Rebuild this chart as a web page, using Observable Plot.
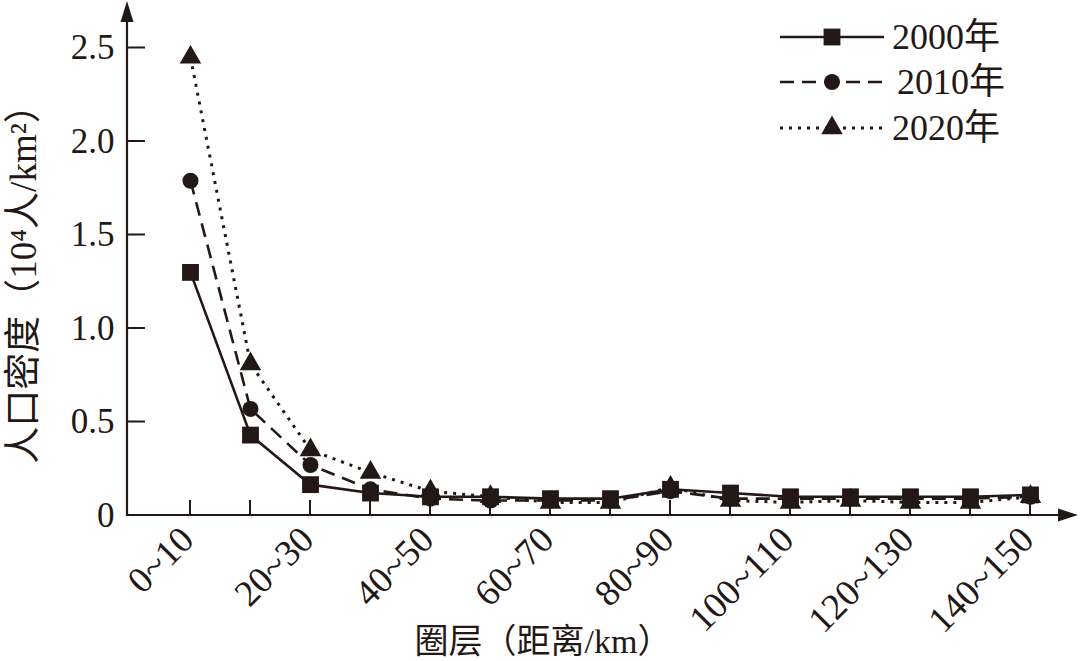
<!DOCTYPE html>
<html><head><meta charset="utf-8">
<script src="https://cdn.jsdelivr.net/npm/d3@7"></script>
<script src="https://cdn.jsdelivr.net/npm/@observablehq/plot@0.6"></script>
<style>
html,body{margin:0;padding:0;background:#fff;}
#chart{position:relative;width:1080px;height:661px;overflow:hidden;}
</style></head><body><div id="chart"></div>
<script>
const categories = ["0~10","10~20","20~30","30~40","40~50","50~60","60~70","70~80","80~90","90~100","100~110","110~120","120~130","130~140","140~150"];
const labeledCategories = categories.filter((d, i) => i % 2 === 0);
const years = ["2000年", "2010年", "2020年"];
const values2000 = [1.30, 0.43, 0.165, 0.12, 0.10, 0.10, 0.09, 0.09, 0.14, 0.12, 0.10, 0.10, 0.10, 0.10, 0.11];
const values2010 = [1.79, 0.57, 0.27, 0.14, 0.09, 0.08, 0.08, 0.08, 0.13, 0.09, 0.09, 0.09, 0.09, 0.09, 0.10];
const values2020 = [2.45, 0.81, 0.35, 0.23, 0.13, 0.10, 0.07, 0.07, 0.15, 0.08, 0.07, 0.08, 0.07, 0.07, 0.10];
const yTicks = [0, 0.5, 1, 1.5, 2, 2.5];
const yTitle = "人口密度（10⁴人/km²）";
const xTitle = "圈层（距离/km）";

const ink = "#231815";
const font = '"Liberation Serif","Times New Roman","Noto Sans CJK SC",serif';
const fs = 34;
const yTickFs = 35;
const xTickFs = 37;

const rows = [];
[values2000, values2010, values2020].forEach((vals, s) =>
  vals.forEach((v, i) => rows.push({year: years[s], cat: categories[i], value: v})));
const series = (y) => rows.filter(d => d.year === y);

const styles = {
  "2000年": {dash: null, width: 2.6, symbol: "square", r: 9.5},
  "2010年": {dash: "14,8", width: 2.6, symbol: "circle", r: 8},
  "2020年": {dash: "3,6", width: 3, symbol: "triangle", r: 8}
};

const chart = Plot.plot({
  width: 1080, height: 661,
  marginLeft: 127, marginRight: 50, marginTop: 47, marginBottom: 146,
  style: {fontFamily: font, fontSize: fs + "px", color: ink, background: "#fff", overflow: "visible"},
  x: {type: "point", domain: categories, range: [189, 1030], padding: 0},
  y: {domain: [0, 2.5], range: [515, 47.5]},
  marks: [
    Plot.axisX({ticks: labeledCategories, tickSize: 0, tickRotate: -45, tickPadding: 18, dx: -3, label: null, fill: ink}),
    Plot.axisY({ticks: yTicks, tickSize: 0, tickPadding: 13, tickFormat: d => d === 0 ? "0" : d.toFixed(1), label: null, fill: ink}),
    ...["2020年", "2010年", "2000年"].flatMap(y => [
      Plot.line(series(y), {x: "cat", y: "value", stroke: ink, strokeWidth: styles[y].width, strokeDasharray: styles[y].dash, curve: "linear", strokeLinecap: "butt"}),
      Plot.dot(series(y), {x: "cat", y: "value", symbol: styles[y].symbol, r: styles[y].r, fill: ink, stroke: "none"})
    ])
  ]
});
document.getElementById("chart").appendChild(chart);

const svg = d3.select(chart);
svg.selectAll('g[aria-label="y-axis tick label"], g[aria-label="y-axis tick label"] text')
  .style("font-size", yTickFs + "px");
svg.selectAll('g[aria-label="x-axis tick label"], g[aria-label="x-axis tick label"] text')
  .style("font-size", xTickFs + "px");

// axes with inward ticks and arrows, positioned via the plot's scales
const xs = chart.scale("x"), ys = chart.scale("y");
const axisX0 = 127;
const y0 = ys.apply(0);
const g = svg.append("g").attr("stroke", ink).attr("fill", ink);
g.append("line").attr("x1", axisX0).attr("x2", 1062).attr("y1", y0).attr("y2", y0).attr("stroke-width", 2.2);
g.append("path").attr("d", `M1078,${y0} L1058,${y0 - 6.5} L1058,${y0 + 6.5} Z`).attr("stroke", "none");
g.append("line").attr("x1", axisX0).attr("x2", axisX0).attr("y1", y0 + 1).attr("y2", 18).attr("stroke-width", 2.2);
g.append("path").attr("d", `M${axisX0},1 L${axisX0 - 6.5},22 L${axisX0 + 6.5},22 Z`).attr("stroke", "none");
categories.forEach(c => {
  const x = xs.apply(c);
  g.append("line").attr("x1", x).attr("x2", x).attr("y1", y0).attr("y2", y0 - 15).attr("stroke-width", 2);
});
yTicks.forEach(t => {
  if (t === 0) return;
  const y = ys.apply(t);
  g.append("line").attr("x1", axisX0).attr("x2", axisX0 + 18).attr("y1", y).attr("y2", y).attr("stroke-width", 2);
});

// axis titles
svg.append("text").attr("transform", "translate(36,275) rotate(-90)")
  .attr("text-anchor", "middle").attr("font-size", 37).attr("fill", ink).attr("font-family", font)
  .text(yTitle);
svg.append("text").attr("x", 543).attr("y", 653)
  .attr("text-anchor", "middle").attr("font-size", fs).attr("fill", ink).attr("font-family", font)
  .text(xTitle);

// legend
const legendRows = [37, 82, 128];
years.forEach((y, i) => {
  const st = styles[y];
  const lg = svg.append("g").attr("transform", `translate(0,${legendRows[i]})`);
  lg.append("line").attr("x1", 780).attr("x2", 884).attr("y1", 0).attr("y2", 0)
    .attr("stroke", ink).attr("stroke-width", st.width).attr("stroke-dasharray", st.dash);
  const sym = {square: d3.symbolSquare, circle: d3.symbolCircle, triangle: d3.symbolTriangle}[st.symbol];
  lg.append("path").attr("transform", "translate(832,0)").attr("d", d3.symbol(sym, st.r * st.r * Math.PI)()).attr("fill", ink);
  lg.append("text").attr("x", i === 1 ? 897 : 892).attr("y", 0).attr("dy", "0.34em").attr("font-size", 36)
    .attr("text-anchor", "start").attr("fill", ink).attr("font-family", font).text(y);
});
</script></body></html>
